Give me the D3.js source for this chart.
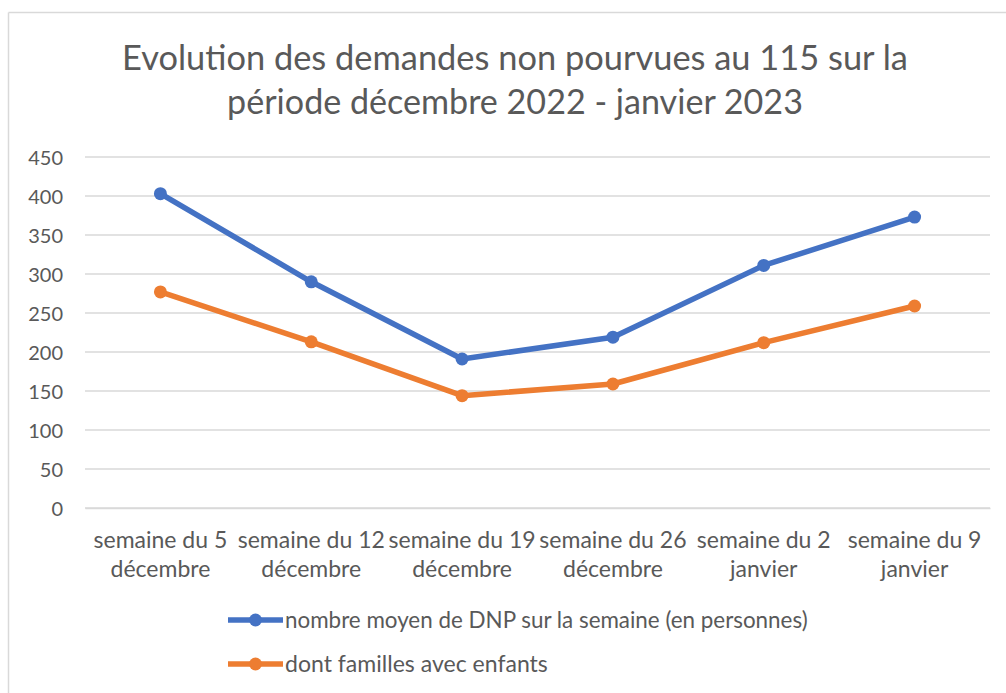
<!DOCTYPE html>
<html><head><meta charset="utf-8">
<script src="https://cdn.jsdelivr.net/npm/d3@7"></script>
<style>body{margin:0;background:#fff}svg{display:block}text{font-family:Lato,"Liberation Sans",sans-serif;fill:#595959}</style>
</head><body>
<svg id="c" width="1006" height="693"></svg>
<script>
const titleLines = ["Evolution des demandes non pourvues au 115 sur la", "période décembre 2022 - janvier 2023"];
const categories = ["semaine du 5|décembre","semaine du 12|décembre","semaine du 19|décembre","semaine du 26|décembre","semaine du 2|janvier","semaine du 9|janvier"];
const seriesNames = ["nombre moyen de DNP sur la semaine (en personnes)","dont familles avec enfants"];
const dnpTotal = [403, 290, 191, 219, 311, 373];
const dnpFamilles = [277, 213, 144, 159, 212, 259];
const yTicks = [0,50,100,150,200,250,300,350,400,450];
const colors = ["#4472C4","#ED7D31"];

const svg = d3.select("#c");
svg.append("line").attr("x1",8.5).attr("x2",1006).attr("y1",12.5).attr("y2",12.5).attr("stroke","#d9d9d9").attr("stroke-width",1.5);
svg.append("line").attr("x1",8.5).attr("x2",8.5).attr("y1",12.5).attr("y2",693).attr("stroke","#d9d9d9").attr("stroke-width",1.5);

function fit(sel, target){
  const w = sel.node().getComputedTextLength();
  const fs = parseFloat(sel.attr("font-size"));
  sel.attr("font-size", fs*target/w);
}
const t1 = svg.append("text").attr("x",515).attr("y",70).attr("text-anchor","middle").attr("font-size",30).text(titleLines[0]);
fit(t1, 786);
const t2 = svg.append("text").attr("x",515).attr("y",114).attr("text-anchor","middle").attr("font-size",30).text(titleLines[1]);
fit(t2, 576);

const x = d3.scaleBand().domain(categories).range([85,990]);
const y = d3.scaleLinear().domain([0,450]).range([508,157]);

svg.selectAll("line.grid").data(yTicks).join("line").attr("class","grid")
 .attr("x1",85).attr("x2",990).attr("y1",d=>y(d)).attr("y2",d=>y(d))
 .attr("stroke","#d9d9d9").attr("stroke-width",1.5);

const yAxis = svg.append("g").attr("transform","translate(72,0)")
 .call(d3.axisLeft(y).tickValues(yTicks).tickSize(0).tickPadding(0));
yAxis.select(".domain").remove();
yAxis.selectAll("text").attr("font-size",20).attr("font-family","Lato, 'Liberation Sans', sans-serif").attr("fill","#595959").attr("x",-9).attr("dy","0.36em");

const xAxis = svg.append("g").attr("transform","translate(0,508)")
 .call(d3.axisBottom(x).tickSize(0).tickFormat(""));
xAxis.select(".domain").attr("stroke","#d9d9d9").attr("stroke-width",1.5);
xAxis.selectAll(".tick").each(function(d){
  const parts = d.split("|");
  const tx = d3.select(this).append("text").attr("text-anchor","middle").attr("font-size",23)
   .attr("font-family","Lato, 'Liberation Sans', sans-serif").attr("fill","#595959");
  parts.forEach((p,i)=>tx.append("tspan").attr("x",0).attr("y",i===0?40:69).text(p));
});

const series = [dnpTotal, dnpFamilles];
const line = d3.line().x((d,i)=>x(categories[i])+x.bandwidth()/2).y(d=>y(d));
series.forEach((s,k)=>{
  svg.append("path").datum(s).attr("d",line).attr("fill","none").attr("stroke",colors[k])
   .attr("stroke-width",5.5).attr("stroke-linejoin","round");
  svg.selectAll(null).data(s).join("circle")
   .attr("cx",(d,i)=>x(categories[i])+x.bandwidth()/2).attr("cy",d=>y(d)).attr("r",6.5).attr("fill",colors[k]);
});

const legY = [620, 664];
seriesNames.forEach((n,k)=>{
  const lg = svg.append("g").attr("transform",`translate(0,${legY[k]})`);
  lg.append("line").attr("x1",228).attr("x2",283).attr("stroke",colors[k]).attr("stroke-width",5.5);
  lg.append("circle").attr("cx",255.5).attr("r",6.5).attr("fill",colors[k]);
  const lt = lg.append("text").attr("x",285).attr("dy","0.36em").attr("font-size",19.5).text(n);
  if(k===0) fit(lt, 523); else fit(lt, 263);
});
</script>
</body></html>
